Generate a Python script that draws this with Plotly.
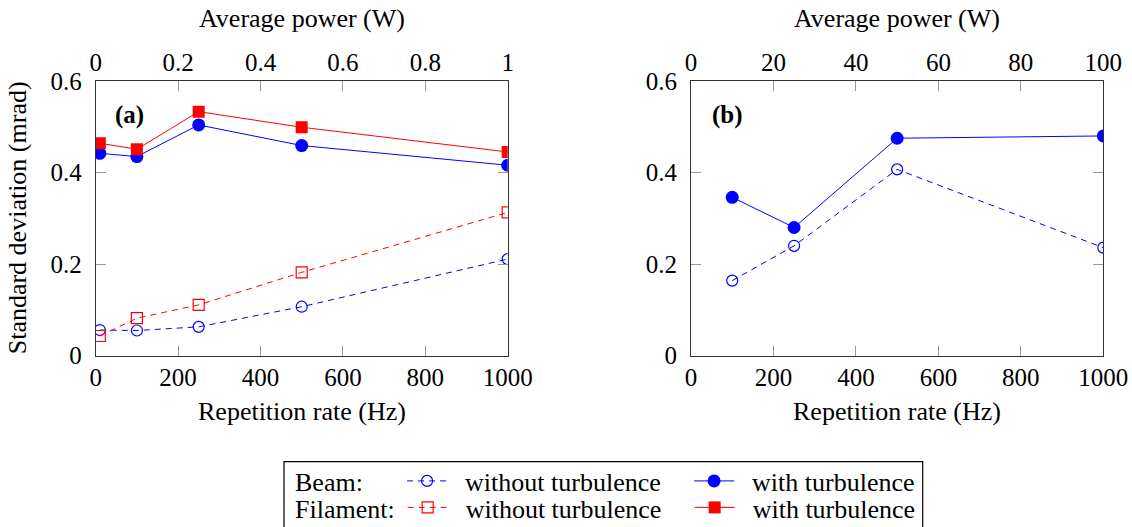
import plotly.graph_objects as go

# ---------------- data ----------------
rep_rate_a = [10, 100, 250, 500, 1000]
beam_without_a = [0.056, 0.055, 0.063, 0.107, 0.211]
filament_without_a = [0.043, 0.082, 0.111, 0.182, 0.313]
beam_with_a = [0.442, 0.435, 0.504, 0.459, 0.416]
filament_with_a = [0.464, 0.451, 0.533, 0.499, 0.445]

rep_rate_b = [100, 250, 500, 1000]
beam_without_b = [0.164, 0.240, 0.407, 0.236]
beam_with_b = [0.346, 0.280, 0.475, 0.480]

rep_ticks = [0, 200, 400, 600, 800, 1000]
power_ticks_a = [0, 0.2, 0.4, 0.6, 0.8, 1]
power_ticks_b = [0, 20, 40, 60, 80, 100]
y_ticks = [0, 0.2, 0.4, 0.6]

# ---------------- style ----------------
W, H = 1132, 527
FONT = "Liberation Serif, Times New Roman, serif"
BLUE = "#0000ff"
RED = "#ff0000"
DASH = "6px,5px"
SP = "\u2002"


def px_x(p):
    return p / W


def px_y(p):
    return 1 - p / H


xa_dom = [px_x(95.7), px_x(507.7)]
xb_dom = [px_x(691.0), px_x(1103.3)]
y_dom = [px_y(355.7), px_y(81.0)]

fig = go.Figure()

# panel (a)
fig.add_trace(go.Scatter(
    x=rep_rate_a, y=beam_without_a, mode="lines+markers", name=SP + "without turbulence",
    line=dict(color=BLUE, width=1, dash=DASH),
    marker=dict(symbol="circle-open", size=11, color=BLUE, line=dict(width=1.2, color=BLUE)),
    xaxis="x", yaxis="y", legend="legend"))
fig.add_trace(go.Scatter(
    x=rep_rate_a, y=beam_with_a, mode="lines+markers", name=SP + "with turbulence",
    line=dict(color=BLUE, width=1),
    marker=dict(symbol="circle", size=13, color=BLUE),
    xaxis="x", yaxis="y", legend="legend"))
fig.add_trace(go.Scatter(
    x=rep_rate_a, y=filament_without_a, mode="lines+markers", name=SP + "without turbulence",
    line=dict(color=RED, width=1, dash=DASH),
    marker=dict(symbol="square-open", size=11, color=RED, line=dict(width=1.2, color=RED)),
    xaxis="x", yaxis="y", legend="legend2"))
fig.add_trace(go.Scatter(
    x=rep_rate_a, y=filament_with_a, mode="lines+markers", name=SP + "with turbulence",
    line=dict(color=RED, width=1),
    marker=dict(symbol="square", size=12, color=RED),
    xaxis="x", yaxis="y", legend="legend2"))

# panel (b)
fig.add_trace(go.Scatter(
    x=rep_rate_b, y=beam_without_b, mode="lines+markers", showlegend=False,
    line=dict(color=BLUE, width=1, dash=DASH),
    marker=dict(symbol="circle-open", size=11, color=BLUE, line=dict(width=1.2, color=BLUE)),
    xaxis="x2", yaxis="y2"))
fig.add_trace(go.Scatter(
    x=rep_rate_b, y=beam_with_b, mode="lines+markers", showlegend=False,
    line=dict(color=BLUE, width=1),
    marker=dict(symbol="circle", size=13, color=BLUE),
    xaxis="x2", yaxis="y2"))

# invisible helpers so the top (average power) axes are drawn
fig.add_trace(go.Scatter(
    x=power_ticks_a, y=[0] * len(power_ticks_a), mode="markers", showlegend=False,
    marker=dict(opacity=0, size=1), hoverinfo="skip", xaxis="x3", yaxis="y"))
fig.add_trace(go.Scatter(
    x=power_ticks_b, y=[0] * len(power_ticks_b), mode="markers", showlegend=False,
    marker=dict(opacity=0, size=1), hoverinfo="skip", xaxis="x4", yaxis="y2"))

tick_font = dict(family=FONT, size=25, color="black")
common = dict(showline=True, linecolor="#333333", linewidth=1, ticks="inside",
              ticklen=10, tickcolor="#999999", tickwidth=1, showgrid=False,
              zeroline=False, tickfont=tick_font, fixedrange=True, automargin=False)

LEG_FONT = dict(family=FONT, size=26, color="black")
legend_common = dict(orientation="h", xref="container", yref="container",
                     xanchor="left", yanchor="middle",
                     entrywidth=232, entrywidthmode="pixels", itemwidth=40,
                     font=LEG_FONT,
                     bgcolor="rgba(0,0,0,0)", borderwidth=0, traceorder="normal")

fig.update_layout(
    width=W, height=H,
    margin=dict(l=0, r=0, t=0, b=0, pad=0, autoexpand=False),
    paper_bgcolor="white", plot_bgcolor="white",
    font=dict(family=FONT, size=25, color="black"),
    xaxis=dict(domain=xa_dom, anchor="y", range=[0, 1000], tickvals=rep_ticks,
               mirror="ticks", ticklabelstandoff=-1, **common),
    yaxis=dict(domain=y_dom, anchor="x", range=[0, 0.6], tickvals=y_ticks,
               ticktext=["0", "0.2", "0.4", "0.6"], mirror="ticks",
               ticklabelstandoff=8, **common),
    xaxis2=dict(domain=xb_dom, anchor="y2", range=[0, 1000], tickvals=rep_ticks,
                mirror="ticks", ticklabelstandoff=-1, **common),
    yaxis2=dict(domain=y_dom, anchor="x2", range=[0, 0.6], tickvals=y_ticks,
                ticktext=["0", "0.2", "0.4", "0.6"], mirror="ticks",
                ticklabelstandoff=8, **common),
    xaxis3=dict(overlaying="x", anchor="y", side="top", range=[0, 1],
                tickvals=power_ticks_a, ticktext=["0", "0.2", "0.4", "0.6", "0.8", "1"],
                ticklabelstandoff=-1, **common),
    xaxis4=dict(overlaying="x2", anchor="y2", side="top", range=[0, 100],
                tickvals=power_ticks_b, ticktext=[str(v) for v in power_ticks_b],
                ticklabelstandoff=-1, **common),
    legend=dict(x=px_x(293), y=px_y(481),
                title=dict(text="Beam:" + SP + SP + "\u2009", side="left", font=LEG_FONT),
                **legend_common),
    legend2=dict(x=px_x(293), y=px_y(507.5),
                 title=dict(text="Filament:", side="left", font=LEG_FONT),
                 **legend_common),
    showlegend=True,
)

ann_font = dict(family=FONT, size=26, color="black")
annotations = [
    dict(text="Average power (W)", x=px_x(301.7), y=px_y(18)),
    dict(text="Average power (W)", x=px_x(897.2), y=px_y(18)),
    dict(text="Repetition rate (Hz)", x=px_x(301.7), y=px_y(411)),
    dict(text="Repetition rate (Hz)", x=px_x(897.2), y=px_y(411)),
    dict(text="Standard deviation (mrad)", x=px_x(17), y=px_y(218.3), textangle=-90),
    dict(text="<b>(a)</b>", x=px_x(129), y=px_y(115), font=dict(family=FONT, size=25, color="black")),
    dict(text="<b>(b)</b>", x=px_x(727), y=px_y(115), font=dict(family=FONT, size=25, color="black")),
]
for a in annotations:
    a.setdefault("xanchor", "center")
    a.setdefault("font", ann_font)
    fig.add_annotation(xref="paper", yref="paper", yanchor="middle", showarrow=False, **a)

# legend frame
fig.add_shape(type="rect", xref="paper", yref="paper",
              x0=px_x(284), x1=px_x(922.7), y0=-0.02, y1=px_y(461.7),
              line=dict(color="black", width=1.2), fillcolor="rgba(0,0,0,0)", layer="above")

fig.write_html("out.html")
